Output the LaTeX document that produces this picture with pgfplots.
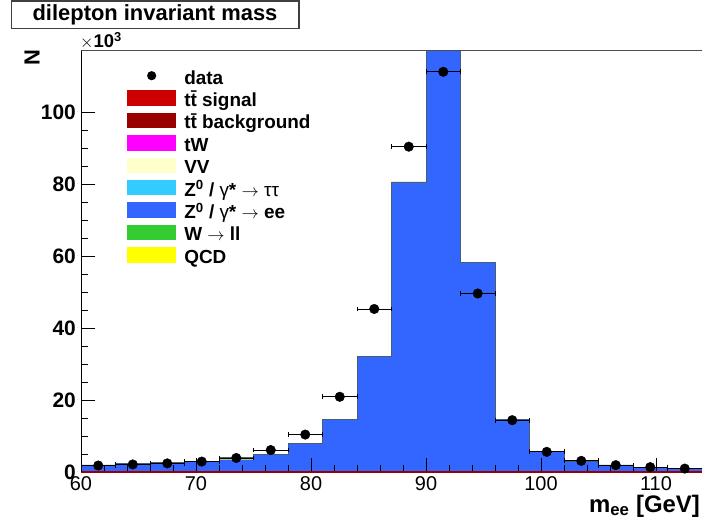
\documentclass[border=0pt]{standalone}
\usepackage{pgfplots}
\pgfplotsset{compat=1.18}
\usepackage{fontspec}
\setmainfont{Liberation Sans}
\definecolor{ttsig}{RGB}{204,0,0}
\definecolor{ttbg}{RGB}{153,0,0}
\definecolor{tWc}{RGB}{255,0,255}
\definecolor{VVc}{RGB}{255,255,204}
\definecolor{Zttc}{RGB}{51,204,255}
\definecolor{Zeec}{RGB}{51,102,255}
\definecolor{Wllc}{RGB}{51,204,51}
\definecolor{QCDc}{RGB}{255,255,0}
\definecolor{edgec}{RGB}{70,95,110}
\pgfplotsset{lbox/.style={legend image code/.code={\fill[#1, draw=none] (0bp,-7.75bp) rectangle (49.3bp,7.75bp); \path[draw=none, fill=none] (0bp,-11.17bp) rectangle (49.3bp,11.17bp);}}}
\begin{document}
\begin{tikzpicture}
\useasboundingbox (0,0) rectangle (702bp,527bp);
\begin{axis}[
  at={(81bp,55bp)}, anchor=south west,
  width=621bp, height=421.8bp, scale only axis,
  xmin=60, xmax=114, ymin=0, ymax=117.2,
  axis x line*=bottom, axis y line*=left,
  x axis line style={draw=ttbg, line width=1.4bp},
  y axis line style={draw=black, line width=0.9bp},
  tick align=inside,
  xtick={60,70,...,110}, minor x tick num=4,
  ytick={0,20,...,100}, minor y tick num=3,
  major tick length=14bp, minor tick length=7bp,
  tick style={black, line width=0.8bp},
  /pgf/number format/assume math mode=true,
  xticklabel style={font=\fontsize{20}{20}\selectfont, inner sep=0pt, yshift=-4.5bp},
  yticklabel style={font=\bfseries\fontsize{21}{21}\selectfont, inner sep=0pt, xshift=-5bp},
  axis on top,
  legend style={draw=none, fill=none, at={(0.0741,0.9661)}, anchor=north west,
    inner sep=0pt, outer sep=0pt, row sep=0pt, column sep=8bp,
    nodes={inner sep=0pt, text height=19.6bp, text depth=2.8bp, font=\bfseries\fontsize{19}{19}\selectfont}},
  legend cell align=left,
]
% Z -> ee + QCD (stack top)
\addplot[const plot mark left, fill=QCDc, draw=none, forget plot] coordinates {
(60,2.0) (63,2.3) (66,2.6) (69,2.9) (72,3.8) (75,5.0) (78,7.9) (81,14.6) (84,32.2)
(87,80.6) (90,125) (93,58.3) (96,14.6) (99,5.65) (102,3.1) (105,2.0) (108,1.35) (111,0.9) (114,0.9)} \closedcycle;
% Z -> ee
\addplot[const plot mark left, fill=Zeec, draw=none, forget plot] coordinates {
(60,2.0) (63,2.3) (66,2.6) (69,2.9) (72,3.45) (75,4.75) (78,7.9) (81,14.6) (84,32.2)
(87,80.6) (90,125) (93,58.3) (96,14.6) (99,5.65) (102,3.1) (105,2.0) (108,1.35) (111,0.9) (114,0.9)} \closedcycle;
% stack outline
\addplot[const plot mark left, draw=edgec, line width=0.6bp, forget plot] coordinates {
(60,2.0) (63,2.3) (66,2.6) (69,2.9) (72,3.95) (75,5.05) (78,7.9) (81,14.6) (84,32.2)
(87,80.6) (90,125) (93,58.3) (96,14.6) (99,5.65) (102,3.1) (105,2.0) (108,1.35) (111,0.9) (114,0.9)};
% ttbar
\addplot[const plot mark left, fill=ttbg, draw=ttbg, line width=1bp, forget plot] coordinates {
(60,0.05) (63,0.05) (66,0.05) (69,0.05) (72,0.05) (75,0.05) (78,0.05) (81,0.05) (84,0.05)
(87,0.05) (90,0.05) (93,0.05) (96,0.05) (99,0.05) (102,0.05) (105,0.05) (108,0.05) (111,0.05) (114,0.05)} \closedcycle;
% data
\addplot[only marks, mark=*, mark size=4.8bp, black, forget plot,
  error bars/.cd, x dir=both, x explicit, error mark=|,
  error bar style={line width=0.9bp, black},
  error mark options={mark size=2.4bp, line width=0.9bp, black}] coordinates {
(61.5,1.8) +- (1.5,0)
(64.5,2.1) +- (1.5,0)
(67.5,2.4) +- (1.5,0)
(70.5,2.9) +- (1.5,0)
(73.5,3.9) +- (1.5,0)
(76.5,6.1) +- (1.5,0)
(79.5,10.4) +- (1.5,0)
(82.5,20.9) +- (1.5,0)
(85.5,45.3) +- (1.5,0)
(88.5,90.4) +- (1.5,0)
(91.5,111.2) +- (1.5,0)
(94.5,49.6) +- (1.5,0)
(97.5,14.4) +- (1.5,0)
(100.5,5.6) +- (1.5,0)
(103.5,3.1) +- (1.5,0)
(106.5,1.9) +- (1.5,0)
(109.5,1.35) +- (1.5,0)
(112.5,0.95) +- (1.5,0)};
\addlegendimage{legend image code/.code={\fill[black, draw=none] (24.65bp,0bp) circle (4.6bp); \path[draw=none, fill=none] (0bp,-11.17bp) rectangle (49.3bp,11.17bp);}}
\addlegendentry{data}
\addlegendimage{lbox=ttsig}
\addlegendentry{t\={t} signal}
\addlegendimage{lbox=ttbg}
\addlegendentry{t\={t} background}
\addlegendimage{lbox=tWc}
\addlegendentry{tW}
\addlegendimage{lbox=VVc}
\addlegendentry{VV}
\addlegendimage{lbox=Zttc}
\addlegendentry{Z\textsuperscript{0} / {\mdseries γ}* $\rightarrow$ {\mdseries ττ}}
\addlegendimage{lbox=Zeec}
\addlegendentry{Z\textsuperscript{0} / {\mdseries γ}* $\rightarrow$ ee}
\addlegendimage{lbox=Wllc}
\addlegendentry{W $\rightarrow$ ll}
\addlegendimage{lbox=QCDc}
\addlegendentry{QCD}
\end{axis}
\draw[black!70, line width=0.9bp] (81bp,476.8bp) -- (702bp,476.8bp);
\draw[black!75, line width=1.2bp, fill=white] (11.5bp,498.5bp) rectangle (299bp,526bp);
\node[anchor=base, inner sep=0pt, font=\bfseries\fontsize{22}{22}\selectfont] at (155bp,506.3bp) {dilepton invariant mass};
\node[rotate=90, inner sep=0pt, font=\bfseries\fontsize{22}{22}\selectfont] at (32bp,469bp) {N};
\node[anchor=base west, inner sep=0pt, font=\bfseries\fontsize{18.5}{18.5}\selectfont] at (80bp,479bp) {$\times$10\textsuperscript{3}};
\node[anchor=base east, inner sep=0pt, font=\bfseries\fontsize{24}{24}\selectfont] at (700bp,15bp) {m\textsubscript{ee} [GeV]};
\end{tikzpicture}
\end{document}
